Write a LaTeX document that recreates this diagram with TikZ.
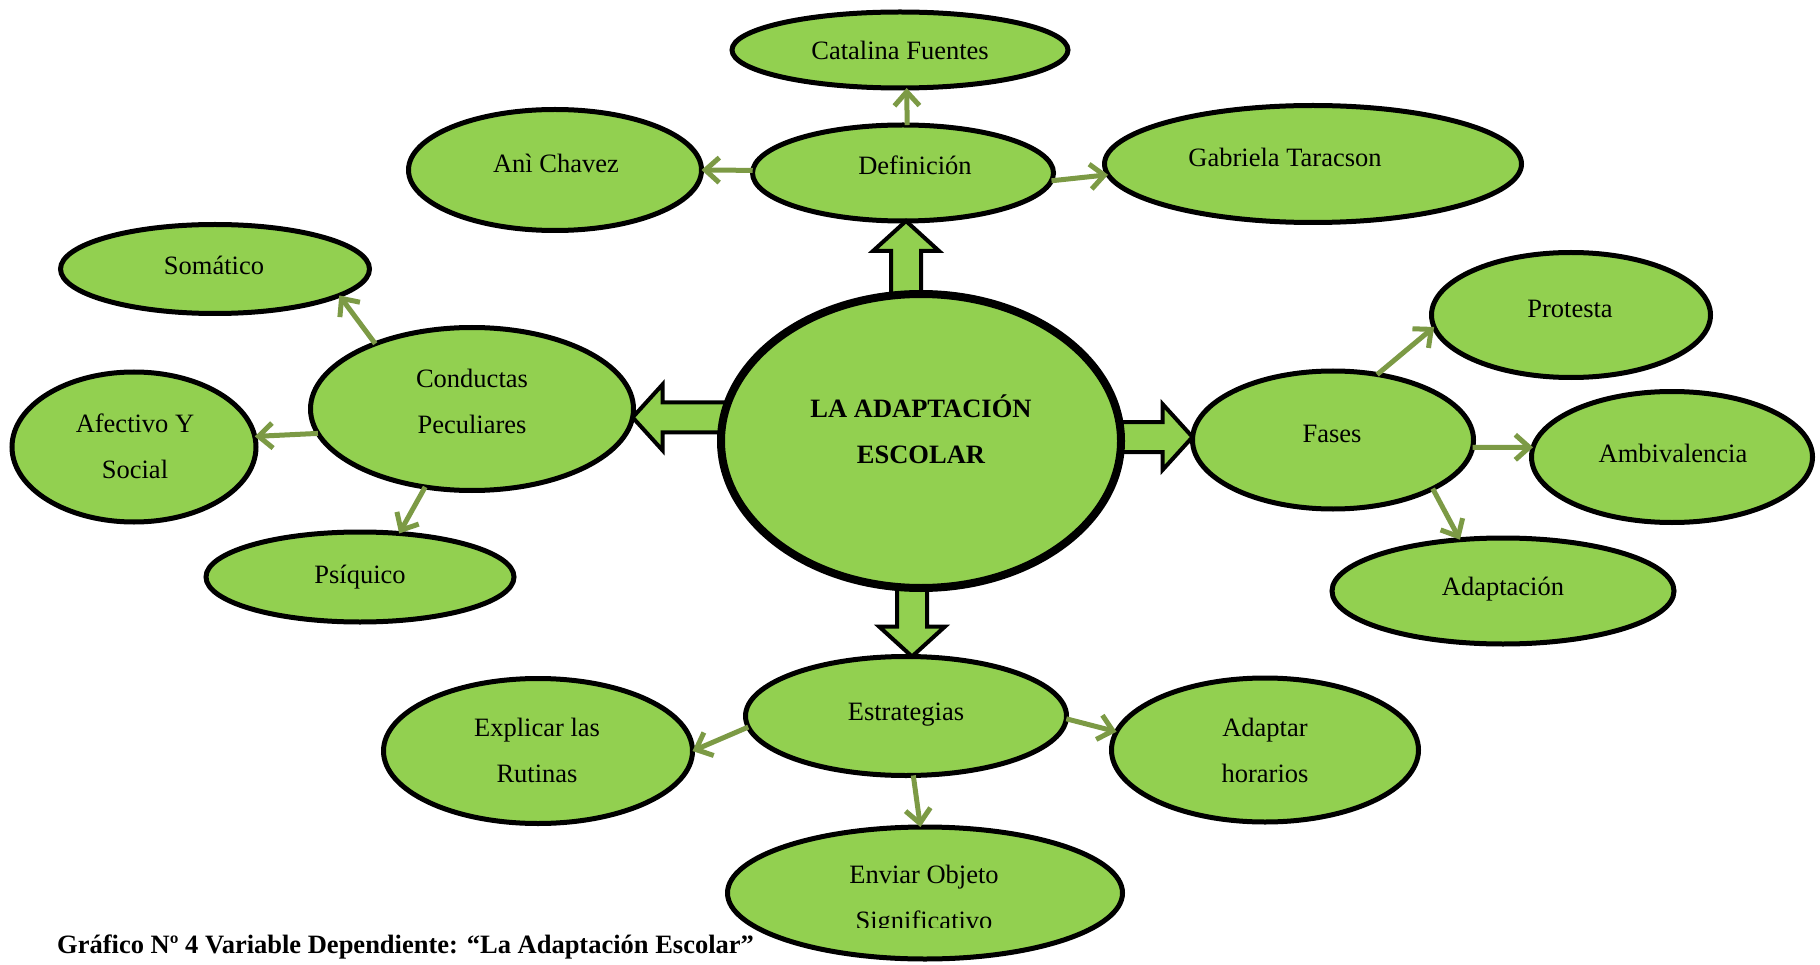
\documentclass[tikz,border=0pt]{standalone}
\usepackage{fontspec}
\setmainfont{Liberation Serif}
\usetikzlibrary{shapes.geometric,arrows.meta,calc}
\definecolor{leaf}{HTML}{92D050}
\definecolor{linkgreen}{HTML}{7C9A45}
\newcommand\blkarrow[3]{%
  \draw[blockarrow, shift={(#1)}, rotate=#2]
    (0,0) -- (-30,-33) -- (-30,-15) -- (-#3,-15) -- (-#3,15) -- (-30,15) -- (-30,33) -- cycle;}
\begin{document}
\begin{tikzpicture}[x=1pt,y=-1pt,
  bubble/.style={ellipse, draw=black, line width=5pt, fill=leaf, inner sep=0pt, outer sep=0pt},
  hub/.style={bubble, line width=8pt},
  lbl/.style={font=\fontsize{26.5}{45.5}\selectfont, inner sep=0pt, anchor=base, align=center},
  link/.style={draw=linkgreen, line width=5pt, -{Straight Barb[length=14pt,width=25pt]}},
  blockarrow/.style={draw=black, line width=4pt, fill=leaf, line join=miter}]
\useasboundingbox (0,0) rectangle (1820,965);

% ellipses (positions)
\node[bubble, minimum width=336, minimum height=76]  (cat)  at (900,50)  {};
\node[bubble, minimum width=301, minimum height=96]  (def)  at (903,173) {};
\node[bubble, minimum width=293, minimum height=121] (ani)  at (555,170) {};
\node[bubble, minimum width=417, minimum height=117] (gab)  at (1313,164) {};
\node[bubble, minimum width=309, minimum height=89]  (som)  at (215,269) {};
\node[bubble, minimum width=323, minimum height=163] (cond) at (472,409) {};
\node[bubble, minimum width=244, minimum height=150] (afe)  at (134,447) {};
\node[bubble, minimum width=308, minimum height=90]  (psi)  at (360,577) {};
\node[bubble, minimum width=281, minimum height=138] (fases) at (1333,440) {};
\node[bubble, minimum width=279, minimum height=125] (prot) at (1571,315) {};
\node[bubble, minimum width=281, minimum height=131] (amb)  at (1672,457) {};
\node[bubble, minimum width=342, minimum height=106] (adap) at (1503,591) {};
\node[bubble, minimum width=321, minimum height=119] (estr) at (906,716) {};
\node[bubble, minimum width=309, minimum height=145] (expl) at (538,751) {};
\node[bubble, minimum width=307, minimum height=144] (ahor) at (1265,750) {};
\node[bubble, minimum width=395, minimum height=132] (env)  at (925,893) {};

% block arrows from the hub
\blkarrow{[xshift=3pt]def.south}{90}{79}
\blkarrow{cond.-3.4}{180}{102}
\blkarrow{[yshift=3pt]fases.west}{0}{82}
\blkarrow{[xshift=6pt]estr.north}{-90}{76}

\node[hub, minimum width=400, minimum height=294] (hub) at (921,441) {};

% texts (anchor base = baseline of the last line)
\node[lbl] (tcat)  at (900,60)   {Catalina Fuentes};
\node[lbl] (tdef)  at (915,175)  {Definición};
\node[lbl] (tani)  at (556,173)  {Anì Chavez};
\node[lbl] (tgab)  at (1285,167) {Gabriela Taracson};
\node[lbl] (tsom)  at (214,275)  {Somático};
\node[lbl] (tcond) at (472,433)  {Conductas\\Peculiares};
\node[lbl] (tafe)  at (135,478)  {Afectivo Y\\Social};
\node[lbl] (tpsi)  at (360,583)  {Psíquico};
\node[lbl, font=\fontsize{26.5}{46}\selectfont\bfseries] (thub) at (921,463) {LA ADAPTACIÓN\\ESCOLAR};
\node[lbl] (tfases) at (1332,442) {Fases};
\node[lbl] (tprot) at (1570,318) {Protesta};
\node[lbl] (tamb)  at (1673,462) {Ambivalencia};
\node[lbl] (tadap) at (1503,595) {Adaptación};
\node[lbl] (testr) at (906,720)  {Estrategias};
\node[lbl] (texpl) at (537,782)  {Explicar las\\Rutinas};
\node[lbl] (tahor) at (1265,782) {Adaptar\\horarios};
\begin{scope}
  \clip (700,800) rectangle (1150,927);
  \node[lbl] (tenv) at (924,929) {Enviar Objeto\\Significativo};
\end{scope}

% thin connectors
\draw[link] (def.85)     -- (cat.-80);
\draw[link] (def.179)    -- (ani.0);
\draw[link] (def.-3.4)   -- (gab.183.5);
\draw[link] (cond.146.3) -- (som.-12.7);
\draw[link] (cond.189.1) -- (afe.5.4);
\draw[link] (cond.-121)  -- (psi.48.5);
\draw[link] (fases.56.7) -- (prot.185.2);
\draw[link] (fases.-3.6) -- (amb.176.8);
\draw[link] (fases.-26.1) -- (adap.130);
\draw[link] (estr.184.8) -- (expl.0);
\draw[link] (estr.-1)    -- (ahor.173.1);
\draw[link] (estr.-83.8) -- (env.94);

% caption
\node[lbl, font=\fontsize{26.5}{30}\selectfont\bfseries, anchor=base west] (cap) at (57,953)
  {Gráfico Nº 4 Variable Dependiente: “La Adaptación Escolar”};
\end{tikzpicture}
\end{document}
